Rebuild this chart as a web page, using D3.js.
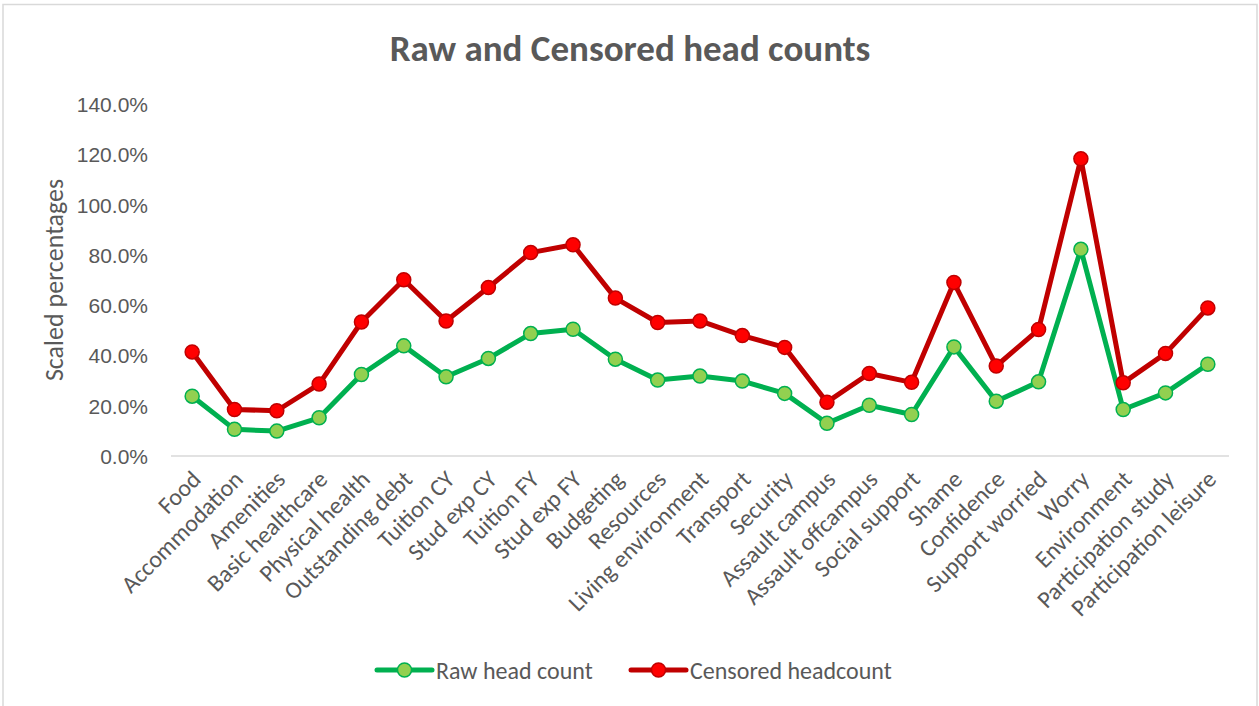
<!DOCTYPE html>
<html>
<head>
<meta charset="utf-8">
<script src="https://cdn.jsdelivr.net/npm/d3@7"></script>
<style>
  html, body { margin: 0; padding: 0; background: #fff; }
  svg { display: block; font-family: Carlito, Calibri, "Open Sans", sans-serif; }
</style>
</head>
<body>
<svg id="chart" width="1259" height="706"></svg>
<script>
const categories = ["Food","Accommodation","Amenities","Basic healthcare","Physical health","Outstanding debt","Tuition CY","Stud exp CY","Tuition FY","Stud exp FY","Budgeting","Resources","Living environment","Transport","Security","Assault campus","Assault offcampus","Social support","Shame","Confidence","Support worried","Worry","Environment","Participation study","Participation leisure"];
const rawHeadCount = [0.238,0.106,0.099,0.152,0.324,0.438,0.315,0.388,0.487,0.504,0.385,0.302,0.318,0.298,0.249,0.130,0.202,0.165,0.434,0.218,0.295,0.822,0.185,0.251,0.365];
const censoredHeadcount = [0.414,0.185,0.180,0.286,0.533,0.701,0.537,0.670,0.809,0.840,0.628,0.531,0.537,0.479,0.432,0.214,0.328,0.293,0.690,0.358,0.503,1.182,0.291,0.408,0.589];
const yTicks = [0,0.2,0.4,0.6,0.8,1.0,1.2,1.4];
const seriesNames = ["Raw head count","Censored headcount"];

const svg = d3.select("#chart");
const textColor = "#595959";

// chart border
svg.append("rect").attr("x",3).attr("y",4.5).attr("width",1254).attr("height",710)
  .attr("fill","#fff").attr("stroke","#d9d9d9").attr("stroke-width",1.5);

const x = d3.scaleBand().domain(categories).range([171,1229]);
const cx = d => x(d) + x.bandwidth()/2;
const y = d3.scaleLinear().domain([0,1.4]).range([456,104]);

// title
svg.append("text").attr("x",630).attr("y",61).attr("text-anchor","middle")
  .attr("font-size",37).attr("font-weight","bold").attr("fill",textColor)
  .text("Raw and Censored head counts");

// y axis labels
const fmt = d3.format(".1%");
const yAxis = d3.axisLeft(y).tickValues(yTicks).tickFormat(fmt).tickSize(0).tickPadding(0);
const gy = svg.append("g").attr("transform","translate(148,0)").call(yAxis);
gy.select(".domain").remove();
gy.selectAll("text").attr("font-size",21).attr("fill",textColor).attr("font-family",null).attr("dy","0.36em");

// y axis title
svg.append("text").attr("transform","translate(54,280) rotate(-90)").attr("text-anchor","middle")
  .attr("dy","0.36em").attr("font-size",26).attr("fill",textColor).text("Scaled percentages");

// x axis line
svg.append("line").attr("x1",171).attr("x2",1229).attr("y1",y(0)).attr("y2",y(0))
  .attr("stroke","#d9d9d9").attr("stroke-width",1.5);

// category labels
svg.append("g").selectAll("text").data(categories).join("text")
  .attr("transform", d => `translate(${cx(d)-2},${469}) rotate(-45)`)
  .attr("text-anchor","end").attr("dy","0.7em")
  .attr("font-size",24).attr("fill",textColor).text(d => d);

const series = [
  {name: seriesNames[0], values: rawHeadCount, line: "#00b050", fill: "#92d050", stroke: "#00b050"},
  {name: seriesNames[1], values: censoredHeadcount, line: "#c00000", fill: "#ff0000", stroke: "#c00000"}
];

const lineGen = d3.line().x((d,i) => cx(categories[i])).y(d => y(d));

series.forEach(s => {
  svg.append("path").datum(s.values).attr("d", lineGen).attr("fill","none")
    .attr("stroke", s.line).attr("stroke-width",5).attr("stroke-linejoin","round").attr("stroke-linecap","round");
  svg.append("g").selectAll("circle").data(s.values).join("circle")
    .attr("cx",(d,i)=>cx(categories[i])).attr("cy",d=>y(d)).attr("r",7)
    .attr("fill",s.fill).attr("stroke",s.stroke).attr("stroke-width",1.5);
});

// legend
const legendX = [377, 631];
series.forEach((s,i) => {
  const g = svg.append("g").attr("transform",`translate(${legendX[i]},670)`);
  g.append("line").attr("x1",0).attr("x2",55).attr("y1",0).attr("y2",0)
    .attr("stroke",s.line).attr("stroke-width",5).attr("stroke-linecap","round");
  g.append("circle").attr("cx",27.5).attr("cy",0).attr("r",7)
    .attr("fill",s.fill).attr("stroke",s.stroke).attr("stroke-width",1.5);
  g.append("text").attr("x",59).attr("y",0).attr("dy","0.36em")
    .attr("font-size",24).attr("fill",textColor).text(s.name);
});
</script>
</body>
</html>
